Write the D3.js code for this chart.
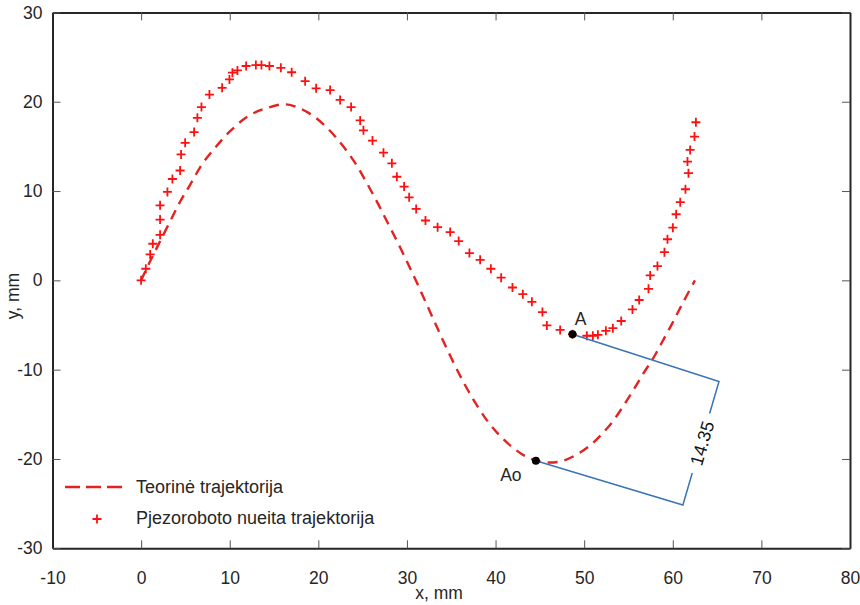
<!DOCTYPE html>
<html>
<head>
<meta charset="utf-8">
<script src="https://cdn.jsdelivr.net/npm/d3@7"></script>
<style>
  html, body { margin: 0; padding: 0; background: #fff; }
  svg { display: block; font-family: "Liberation Sans", Arial, sans-serif; }
</style>
</head>
<body>
<svg id="chart" width="860" height="605"></svg>
<script>
// Axis ticks
const xTicks = [-10, 0, 10, 20, 30, 40, 50, 60, 70, 80];
const yTicks = [-30, -20, -10, 0, 10, 20, 30];

// Theoretical trajectory
const theoryX = [0, 1.0, 1.95, 3.27, 4.4, 5.53, 6.85, 8.35, 10.05, 12.1, 14.2, 16.4, 18.9, 20.96, 22.65,
  24.15, 25.47, 26.67, 27.8, 28.93, 30.0, 31.0, 32.05, 33.1, 34.1, 35.3, 36.6, 37.9, 39.2, 40.5, 41.8,
  43.2, 44.6, 46.0, 47.6, 49.5, 51.0, 52.1, 53.3, 54.4, 55.6, 56.7, 57.8, 58.8, 60.0, 61.2, 62.5];
const theoryY = [0, 2.1, 4.0, 6.6, 8.8, 10.7, 12.95, 14.85, 16.7, 18.4, 19.3, 19.7, 18.75, 17.1, 15.2,
  13.15, 10.9, 8.7, 6.5, 4.3, 2.1, 0.0, -2.3, -4.6, -6.8, -9.3, -11.8, -14.0, -15.9, -17.4, -18.6,
  -19.6, -20.2, -20.4, -20.2, -19.3, -18.2, -17.1, -15.7, -14.1, -12.2, -10.4, -8.7, -6.9, -4.7, -2.4, 0];

// Trajectory travelled by the piezo robot
const measuredX = [0.00, 0.53, 1.02, 1.32, 2.14, 2.14, 2.14, 2.97, 3.53, 4.40, 4.51, 4.97, 5.98, 6.35, 6.81,
  7.71, 9.14, 9.97, 10.30, 10.87, 11.85, 12.95, 13.58, 14.48, 15.77, 16.99, 18.51, 19.75, 21.33, 22.46,
  23.70, 24.72, 25.09, 26.11, 27.35, 28.30, 28.86, 29.68, 30.25, 31.04, 32.09, 33.46, 34.88, 35.84, 37.05,
  38.26, 39.47, 40.63, 41.91, 43.08, 44.10, 45.29, 45.79, 47.29, 48.68, 50.30, 50.98, 51.55, 52.45, 53.24,
  54.18, 55.45, 56.21, 57.26, 57.45, 58.27, 59.06, 59.40, 60.01, 60.38, 60.84, 61.43, 61.77, 61.66, 61.96,
  62.45, 62.61];
const measuredY = [0.0, 1.3, 2.9, 4.1, 5.1, 6.8, 8.4, 9.9, 11.35, 12.3, 14.1, 15.4, 16.6, 18.2, 19.4,
  20.8, 21.55, 22.5, 23.25, 23.5, 24.0, 24.1, 24.1, 24.0, 23.8, 23.3, 22.3, 21.5, 21.3, 20.2,
  19.4, 17.9, 16.8, 15.65, 14.3, 13.1, 11.6, 10.5, 9.3, 8.0, 6.7, 5.95, 5.4, 4.4, 3.05,
  2.3, 1.3, 0.3, -0.8, -1.55, -2.4, -3.55, -5.05, -5.55, -6.03, -6.2, -6.2, -6.1, -5.65, -5.35,
  -4.55, -3.25, -2.2, -0.95, 0.55, 1.6, 3.15, 4.6, 5.9, 7.4, 8.75, 10.2, 12.0, 13.3, 14.6,
  16.1, 17.7];

// Marked points and the distance between them
const markNames = ["A", "Ao"];
const markX = [48.68, 44.55];
const markY = [-6.03, -20.2];
const distanceLabel = "14.35";

const legendNames = ["Teorinė trajektorija", "Pjezoroboto nueita trajektorija"];
const xTitle = "x, mm";
const yTitle = "y, mm";

const svg = d3.select("#chart");
const plotLeft = 52.5, plotRight = 850, plotTop = 12.4, plotBottom = 548.3;

const x = d3.scaleLinear().domain([-10, 80]).range([plotLeft, plotRight]);
const y = d3.scaleLinear().domain([-30, 30]).range([plotBottom, plotTop]);

const ink = "#262626";
const lineRed = "#e32222";
const plusRed = "#ff1010";
const fontSize = 17.5;
const plainNumber = d => String(d);

// Axes with inward ticks, boxed
function styleAxis(g) {
  g.select(".domain").attr("stroke", ink).attr("stroke-width", 2);
  g.selectAll(".tick line").attr("stroke", "#555").attr("stroke-width", 1);
  g.selectAll(".tick text").attr("fill", ink).style("font-size", fontSize + "px")
    .style("font-family", "'Liberation Sans', Arial, sans-serif");
}

svg.append("g").attr("transform", `translate(0,${plotBottom})`)
  .call(d3.axisBottom(x).tickValues(xTicks).tickSizeInner(-8).tickSizeOuter(0).tickPadding(23)
    .tickFormat(plainNumber))
  .call(styleAxis);
svg.append("g").attr("transform", `translate(0,${plotTop})`)
  .call(d3.axisTop(x).tickValues(xTicks).tickSizeInner(-8).tickSizeOuter(0).tickFormat(""))
  .call(styleAxis);
svg.append("g").attr("transform", `translate(${plotLeft},0)`)
  .call(d3.axisLeft(y).tickValues(yTicks).tickSizeInner(-8).tickSizeOuter(0).tickPadding(10)
    .tickFormat(plainNumber))
  .call(styleAxis);
svg.append("g").attr("transform", `translate(${plotRight},0)`)
  .call(d3.axisRight(y).tickValues(yTicks).tickSizeInner(-8).tickSizeOuter(0).tickFormat(""))
  .call(styleAxis);

// Axis titles
svg.append("text").attr("x", 439).attr("y", 599).attr("text-anchor", "middle")
  .attr("fill", ink).style("font-size", fontSize + "px").text(xTitle);
svg.append("text").attr("transform", "translate(19,296) rotate(-90)").attr("text-anchor", "middle")
  .attr("fill", ink).style("font-size", fontSize + "px").text(yTitle);

// Theoretical trajectory (dashed)
const theory = theoryX.map((v, i) => [v, theoryY[i]]);
svg.append("path")
  .datum(theory)
  .attr("d", d3.line().x(d => x(d[0])).y(d => y(d[1])).curve(d3.curveCatmullRom.alpha(0.5)))
  .attr("fill", "none")
  .attr("stroke", lineRed)
  .attr("stroke-width", 2.4)
  .attr("stroke-dasharray", "10,7");

// Measured trajectory (plus markers)
const plus = "M-4.5,0H4.5M0,-4.5V4.5";
svg.append("g").selectAll("path")
  .data(measuredX.map((v, i) => [v, measuredY[i]]))
  .join("path")
  .attr("transform", d => `translate(${x(d[0])},${y(d[1])})`)
  .attr("d", plus)
  .attr("stroke", plusRed)
  .attr("stroke-width", 1.8)
  .attr("fill", "none");

// Distance dimension between A and Ao, drawn to the right of the two points
const pA = [x(markX[0]), y(markY[0])];
const pB = [x(markX[1]), y(markY[1])];
const vx = pB[0] - pA[0], vy = pB[1] - pA[1];
const len = Math.hypot(vx, vy);
const nx = vy / len, ny = -vx / len;
const off = 152;
const cA = [pA[0] + nx * off + 0.5, pA[1] + ny * off + 5];
const cB = [pB[0] + nx * off + 1, pB[1] + ny * off + 2];
const ux = cB[0] - cA[0], uy = cB[1] - cA[1];
const dl = Math.hypot(ux, uy);
const mid = [(cA[0] + cB[0]) / 2, (cA[1] + cB[1]) / 2];
const gap = 31;
const g1 = [mid[0] - ux / dl * gap, mid[1] - uy / dl * gap];
const g2 = [mid[0] + ux / dl * gap, mid[1] + uy / dl * gap];
const dimBlue = "#3a74b4";
const dim = svg.append("g").attr("fill", "none").attr("stroke", dimBlue).attr("stroke-width", 1.5);
dim.append("path").attr("d", `M${pA}L${cA}L${g1}`);
dim.append("path").attr("d", `M${pB}L${cB}L${g2}`);
const ang = Math.atan2(-uy, -ux) * 180 / Math.PI;
svg.append("text")
  .attr("transform", `translate(${mid[0] + 1},${mid[1]}) rotate(${ang})`)
  .attr("text-anchor", "middle").attr("dy", "0.36em")
  .attr("fill", "#111").style("font-size", "18px").text(distanceLabel);

// Marked points
svg.append("g").selectAll("circle")
  .data([pA, pB]).join("circle")
  .attr("cx", d => d[0]).attr("cy", d => d[1]).attr("r", 4).attr("fill", "#000");
svg.append("text").attr("x", pA[0] + 8).attr("y", pA[1] - 9).attr("text-anchor", "middle")
  .attr("fill", ink).style("font-size", fontSize + "px").text(markNames[0]);
svg.append("text").attr("x", pB[0] - 25).attr("y", pB[1] + 20).attr("text-anchor", "middle")
  .attr("fill", ink).style("font-size", fontSize + "px").text(markNames[1]);

// Legend
const legend = svg.append("g");
legend.append("line").attr("x1", 65).attr("x2", 122).attr("y1", 487).attr("y2", 487)
  .attr("stroke", lineRed).attr("stroke-width", 2.6).attr("stroke-dasharray", "15,6");
legend.append("path").attr("transform", "translate(97,519)").attr("d", plus)
  .attr("stroke", plusRed).attr("stroke-width", 1.8).attr("fill", "none");
legend.selectAll("text").data(legendNames).join("text")
  .attr("x", 136).attr("y", (d, i) => 493 + i * 31)
  .attr("fill", ink).style("font-size", "18px").text(d => d);
</script>
</body>
</html>
